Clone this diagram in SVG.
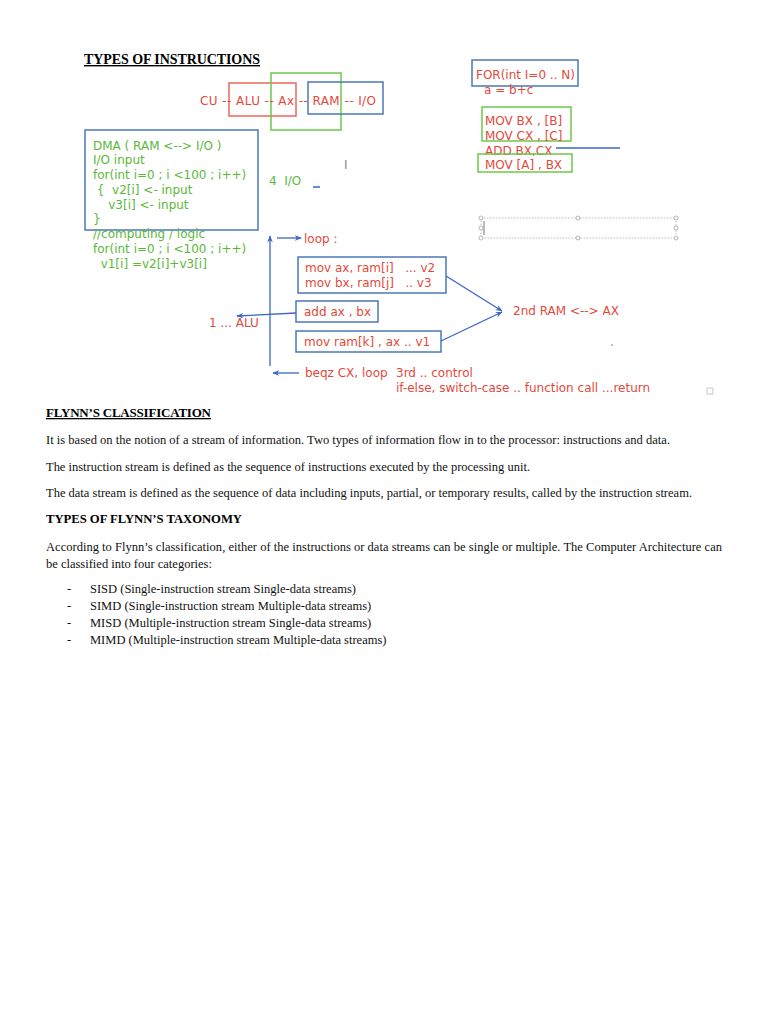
<svg xmlns="http://www.w3.org/2000/svg" width="768" height="1024" viewBox="0 0 768 1024">
<defs>
<marker id="ah" viewBox="0 0 10 10" refX="9" refY="5" markerWidth="7" markerHeight="7" orient="auto-start-reverse" markerUnits="userSpaceOnUse"><path d="M0,1 L10,5 L0,9 L3,5 Z" fill="#3a66c4"/></marker>
<style>
.h{font-family:"Liberation Serif",serif;font-weight:bold;font-size:13px;fill:#000;text-decoration:underline}
.hb{font-family:"Liberation Serif",serif;font-weight:bold;font-size:12.7px;fill:#000}
.p{font-family:"Liberation Serif",serif;font-size:12.5px;fill:#111}
.r{font-family:"DejaVu Sans",Verdana,sans-serif;font-size:12px;fill:#e3493b}
.g{font-family:"DejaVu Sans",Verdana,sans-serif;font-size:12px;fill:#5ab83a}
.bl{fill:none;stroke:#4a78b8;stroke-width:1.5}
.rb{fill:none;stroke:#e8685c;stroke-width:1.5}
.gb{fill:none;stroke:#6cc84a;stroke-width:1.5}
.ar{fill:none;stroke:#3a66c4;stroke-width:1.3}
.hd{fill:#fff;stroke:#999;stroke-width:0.7}
</style>
</defs>
<rect width="768" height="1024" fill="#fff"/>
<text x="84" y="64" font-family="Liberation Serif,serif" font-weight="bold" font-size="14" text-decoration="underline" textLength="176">TYPES OF INSTRUCTIONS</text>

<g id="cpu-chain">
<rect class="rb" x="229" y="83" width="67" height="33"/>
<rect class="gb" x="271" y="73" width="70" height="57"/>
<rect class="bl" x="308" y="82" width="75" height="32"/>
<text class="r" x="200" y="105" textLength="176">CU -- ALU -- Ax -- RAM -- I/O</text>
</g>

<g id="for-block">
<rect class="bl" x="472" y="60" width="106" height="26"/>
<text class="r" x="476" y="79">FOR(int I=0 .. N)</text>
<text class="r" x="484" y="94">a = b+c</text>
<rect class="gb" x="482" y="107" width="89" height="34"/>
<text class="r" x="485" y="125">MOV BX , [B]</text>
<text class="r" x="485" y="140">MOV CX , [C]</text>
<text class="r" x="485" y="155">ADD BX,CX</text>
<line x1="556" y1="148" x2="620" y2="148" stroke="#3a66c4" stroke-width="1.5"/>
<rect class="gb" x="478" y="154" width="94" height="18"/>
<text class="r" x="485" y="169">MOV [A] , BX</text>
</g>

<g id="dma">
<rect class="bl" x="85" y="130" width="173" height="100"/>
<text class="g" x="93" y="150">DMA ( RAM &lt;--&gt; I/O )</text>
<text class="g" x="93" y="164">I/O input</text>
<text class="g" x="93" y="179">for(int i=0 ; i &lt;100 ; i++)</text>
<text class="g" x="93" y="194" xml:space="preserve"> {  v2[i] &lt;- input</text>
<text class="g" x="93" y="209" xml:space="preserve">    v3[i] &lt;- input</text>
<text class="g" x="93" y="223">}</text>
<text class="g" x="93" y="238">//computing / logic</text>
<text class="g" x="93" y="253">for(int i=0 ; i &lt;100 ; i++)</text>
<text class="g" x="93" y="268" xml:space="preserve">  v1[i] =v2[i]+v3[i]</text>
</g>

<g id="io4">
<text class="g" x="269" y="185" xml:space="preserve">4  I/O</text>
<line x1="313" y1="187" x2="320" y2="187" stroke="#3a66c4" stroke-width="1.5"/>
<text x="344" y="169" font-family="DejaVu Sans,sans-serif" font-size="12" fill="#888">I</text>
</g>

<g id="selection">
<rect x="481" y="218" width="195" height="20" fill="none" stroke="#aaa" stroke-width="0.8" stroke-dasharray="1.5,1.5"/>
<circle class="hd" cx="481" cy="218" r="2"/><circle class="hd" cx="578" cy="218" r="2"/><circle class="hd" cx="676" cy="218" r="2"/>
<circle class="hd" cx="481" cy="228" r="2"/><circle class="hd" cx="676" cy="228" r="2"/>
<circle class="hd" cx="481" cy="238" r="2"/><circle class="hd" cx="578" cy="238" r="2"/><circle class="hd" cx="676" cy="238" r="2"/>
<line x1="484" y1="221" x2="484" y2="235" stroke="#555" stroke-width="0.8"/>
</g>

<g id="loop-label"><text class="r" x="304" y="243">loop :</text></g>
<g id="mov-load">
<rect class="bl" x="298" y="257" width="148" height="36"/>
<text class="r" x="305" y="272" xml:space="preserve">mov ax, ram[i]   ... v2</text>
<text class="r" x="305" y="287" xml:space="preserve">mov bx, ram[j]   .. v3</text>
</g>
<g id="add">
<rect class="bl" x="296" y="301" width="82" height="21"/>
<text class="r" x="304" y="316">add ax , bx</text>
</g>
<g id="alu"><text class="r" x="209" y="327">1 ... ALU</text></g>
<g id="mov-store">
<rect class="bl" x="296" y="331" width="145" height="21"/>
<text class="r" x="304" y="346">mov ram[k] , ax .. v1</text>
</g>
<g id="ram-ax"><text class="r" x="513" y="315">2nd RAM &lt;--&gt; AX</text></g>
<g id="beqz"><text class="r" x="305" y="377">beqz CX, loop</text></g>
<g id="control">
<text class="r" x="396" y="377">3rd .. control</text>
<text class="r" x="396" y="392">if-else, switch-case .. function call ...return</text>
</g>
<circle cx="612" cy="345" r="0.8" fill="#666"/>
<path d="M707,388 h6 v6 h-6 z" fill="none" stroke="#bbb" stroke-width="0.8"/>

<g id="connectors">
<line class="ar" x1="270" y1="366" x2="270" y2="236" marker-end="url(#ah)"/>
<line class="ar" x1="277" y1="238" x2="301" y2="238" marker-end="url(#ah)"/>
<line class="ar" x1="296" y1="313" x2="237" y2="316" marker-end="url(#ah)"/>
<line class="ar" x1="446" y1="276" x2="502" y2="311" marker-end="url(#ah)"/>
<line class="ar" x1="441" y1="341" x2="502" y2="312" marker-end="url(#ah)"/>
<line class="ar" x1="299" y1="373" x2="273" y2="373" marker-end="url(#ah)"/>
</g>

<text class="h" x="46" y="417" textLength="165">FLYNN’S CLASSIFICATION</text>
<text class="p" x="46" y="444" textLength="624">It is based on the notion of a stream of information. Two types of information flow in to the processor: instructions and data.</text>
<text class="p" x="46" y="471" textLength="484">The instruction stream is defined as the sequence of instructions executed by the processing unit.</text>
<text class="p" x="46" y="497" textLength="646">The data stream is defined as the sequence of data including inputs, partial, or temporary results, called by the instruction stream.</text>
<text class="hb" x="46" y="523" textLength="196">TYPES OF FLYNN’S TAXONOMY</text>
<text class="p" x="46" y="551" textLength="676">According to Flynn’s classification, either of the instructions or data streams can be single or multiple. The Computer Architecture can</text>
<text class="p" x="46" y="568">be classified into four categories:</text>
<text class="p" x="67" y="593">-</text><text class="p" x="90" y="593">SISD (Single-instruction stream Single-data streams)</text>
<text class="p" x="67" y="610">-</text><text class="p" x="90" y="610">SIMD (Single-instruction stream Multiple-data streams)</text>
<text class="p" x="67" y="627">-</text><text class="p" x="90" y="627">MISD (Multiple-instruction stream Single-data streams)</text>
<text class="p" x="67" y="644">-</text><text class="p" x="90" y="644">MIMD (Multiple-instruction stream Multiple-data streams)</text>
</svg>
